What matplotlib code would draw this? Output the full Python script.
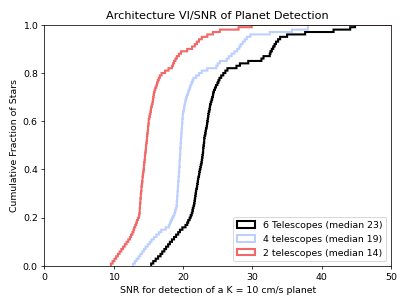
import numpy as np
import matplotlib
matplotlib.use("Agg")
import matplotlib.pyplot as plt

# SNR of each star (sorted)
snr_6tel = [15.4, 15.7, 16.05, 16.4, 16.75, 17.0, 17.3, 17.55, 17.85, 18.1,
            18.4, 18.7, 19.0, 19.3, 19.55, 19.9, 20.35, 20.6, 20.75, 20.95,
            21.1, 21.25, 21.35, 21.4, 21.5, 21.6, 21.65, 21.72, 21.78, 21.83,
            21.89, 21.94, 22.0, 22.05, 22.1, 22.16, 22.22, 22.3, 22.37, 22.44,
            22.51, 22.58, 22.66, 22.74, 22.78, 22.82, 22.86, 22.9, 22.94, 22.98,
            23.02, 23.05, 23.08, 23.13, 23.2, 23.27, 23.34, 23.4, 23.45, 23.5,
            23.56, 23.62, 23.68, 23.74, 23.8, 23.86, 23.92, 24.0, 24.1, 24.2,
            24.3, 24.38, 24.45, 24.6, 24.78, 24.95, 25.1, 25.28, 25.5, 25.8,
            26.1, 26.4, 27.7, 28.2, 29.4, 31.3, 31.6, 32.5, 32.6, 32.8,
            33.0, 33.2, 33.4, 33.7, 34.0, 35.0, 37.6, 41.7, 44.1, 44.8]

snr_4tel = [12.8, 13.05, 13.3, 13.6, 13.85, 14.1, 14.35, 14.6, 14.9, 15.2,
            15.45, 15.8, 16.15, 16.5, 16.85, 17.5, 17.95, 18.1, 18.25, 18.4,
            18.6, 18.75, 18.85, 18.95, 19.05, 19.12, 19.14, 19.16, 19.19, 19.21,
            19.24, 19.26, 19.29, 19.31, 19.34, 19.36, 19.39, 19.41, 19.44, 19.46,
            19.48, 19.5, 19.52, 19.54, 19.56, 19.58, 19.6, 19.62, 19.64, 19.66,
            19.68, 19.72, 19.74, 19.77, 19.79, 19.82, 19.84, 19.87, 19.89, 19.91,
            19.94, 19.96, 19.98, 20.04, 20.1, 20.17, 20.23, 20.3, 20.36, 20.45,
            20.58, 20.7, 20.83, 20.95, 21.05, 21.2, 21.35, 21.5, 21.9, 22.3,
            22.7, 23.5, 24.8, 25.0, 25.3, 26.3, 26.6, 27.0, 27.4, 27.8,
            28.1, 28.3, 28.6, 28.9, 29.2, 29.7, 32.5, 35.7, 38.0, 38.0]

snr_2tel = [9.6, 9.85, 10.1, 10.35, 10.6, 10.85, 11.1, 11.35, 11.6, 11.85,
            12.1, 12.35, 12.5, 12.7, 12.85, 12.95, 13.1, 13.25, 13.35, 13.5,
            13.65, 13.72, 13.75, 13.77, 13.8, 13.83, 13.86, 13.88, 13.91, 13.94,
            13.97, 14.0, 14.04, 14.08, 14.12, 14.15, 14.19, 14.23, 14.27, 14.31,
            14.35, 14.39, 14.42, 14.46, 14.5, 14.54, 14.58, 14.62, 14.65, 14.69,
            14.73, 14.77, 14.8, 14.84, 14.87, 14.91, 14.95, 14.98, 15.02, 15.05,
            15.09, 15.15, 15.22, 15.3, 15.37, 15.44, 15.53, 15.6, 15.65, 15.72,
            15.78, 15.84, 15.93, 16.04, 16.15, 16.26, 16.35, 16.5, 16.65, 16.9,
            17.4, 17.9, 18.4, 18.55, 18.7, 18.9, 19.1, 19.4, 19.7, 20.6,
            21.3, 21.7, 22.0, 22.3, 22.7, 23.5, 24.3, 25.3, 28.0, 29.9]

labels = ["6 Telescopes (median 23)", "4 telescopes (median 19)",
          "2 telescopes (median 14)"]
colors = ["k", "#bccfff", "#f06868"]

dpi = 407 / 6.0
fig, ax = plt.subplots(figsize=(6, 4.5), dpi=dpi)
fig.subplots_adjust(left=0.109, right=0.961, bottom=0.128, top=0.918)

for data, lab, c in zip([snr_6tel, snr_4tel, snr_2tel], labels, colors):
    # bins start at the smallest value and run past the axis end
    bins = np.arange(min(data) - 0.001, 60, 0.05)
    ax.hist(data, bins=bins, cumulative=True, density=True, histtype="step",
            color=c, lw=2.2, label=lab)

ax.set_xlim(0, 50)
ax.set_ylim(0, 1)
ax.set_xlabel("SNR for detection of a K = 10 cm/s planet")
ax.set_ylabel("Cumulative Fraction of Stars")
ax.set_title("Architecture VI/SNR of Planet Detection")
ax.legend(loc="lower right")

fig.savefig("out.png", dpi=dpi)
